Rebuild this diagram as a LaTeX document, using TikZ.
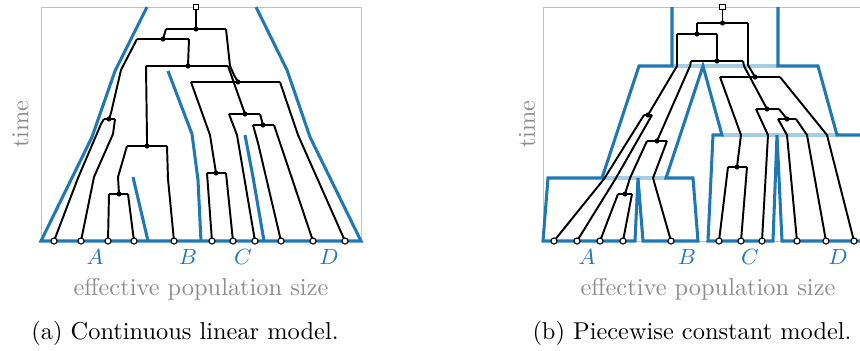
\documentclass[tikz,border=0pt]{standalone}
\definecolor{popblue}{RGB}{31,119,180}
\definecolor{poplight}{RGB}{166,206,227}
\definecolor{framegrey}{RGB}{192,192,192}
\definecolor{textgrey}{RGB}{140,140,140}
\tikzset{
  frameline/.style={draw=framegrey, line width=0.4pt},
  popline/.style={draw=popblue, line width=1.25pt, line join=miter},
  poplightline/.style={draw=poplight, line width=1.25pt},
  treeline/.style={draw=black, line width=0.8pt, line join=round},
  innernode/.style={circle, fill=black, inner sep=0pt, minimum size=2.1pt},
  leafnode/.style={circle, draw=black, fill=white, line width=0.45pt, inner sep=0pt, minimum size=2.5pt},
  rootnode/.style={rectangle, draw=black, fill=white, line width=0.45pt, inner sep=0pt, minimum size=2.4pt},
  axislabel/.style={text=textgrey, font=\normalsize},
  poplabel/.style={text=popblue, font=\small, anchor=base},
  captiontext/.style={text=black, font=\normalsize, anchor=base}
}
\begin{document}
\begin{tikzpicture}[x=0.41pt,y=-0.41pt]
\useasboundingbox (0,0) rectangle (860,350);
\begin{scope}
\clip (0,0) rectangle (860,350);

%% ================= Panel (a) =================
\draw[frameline] (41,7) rectangle (361,241);
\draw[popline] (147,7) -- (115,71) -- (92,137) -- (41,241) -- (361,241) -- (310,137) -- (287,70) -- (256,7);
\draw[popline] (168,71) -- (192,134) -- (198,180) -- (201,241);
\draw[popline] (133,177) -- (148,241);
\draw[popline] (245,135) -- (253,177) -- (264,241);

% coordinates
\coordinate (aR) at (196,7);
\coordinate (ar) at (196,29);  \coordinate (arL) at (166,29); \coordinate (arR) at (226,29);
\coordinate (a1) at (163,39);  \coordinate (a1L) at (137,39); \coordinate (a1R) at (189,39);
\coordinate (a2) at (109,119); \coordinate (a2L) at (104,119); \coordinate (a2R) at (115,119);
\coordinate (a3) at (188,66);  \coordinate (a3L) at (146,66); \coordinate (a3R) at (228,66);
\coordinate (a4) at (147,146); \coordinate (a4L) at (127,146); \coordinate (a4R) at (167,146);
\coordinate (a5) at (119,194); \coordinate (a5L) at (109,194); \coordinate (a5R) at (128,194);
\coordinate (a6) at (245,114); \coordinate (a6L) at (229,114); \coordinate (a6R) at (260,114);
\coordinate (a7) at (238,82);  \coordinate (a7L) at (191,82); \coordinate (a7R) at (280,82);
\coordinate (a8) at (216,173); \coordinate (a8L) at (207,173); \coordinate (a8R) at (226,173);
\coordinate (a9) at (263,125); \coordinate (a9L) at (253,125); \coordinate (a9R) at (274,125);
\coordinate (al1) at (54,241);  \coordinate (al2) at (81,241);  \coordinate (al3) at (108,241);
\coordinate (al4) at (134,241); \coordinate (al5) at (174,241); \coordinate (al6) at (212,241);
\coordinate (al7) at (233,241); \coordinate (al8) at (255,241); \coordinate (al9) at (281,241);
\coordinate (al10) at (313,241); \coordinate (al11) at (345,241);

% bars
\foreach \n in {ar,a1,a2,a3,a4,a5,a6,a7,a8,a9}{\draw[treeline] (\n L) -- (\n R);}
% edges
\draw[treeline] (aR) -- (ar);
\draw[treeline] (arL) -- (a1);
\draw[treeline] (arR) -- (230,66) -- (234,75) -- (a7);
\draw[treeline] (a1L) -- (121,70) -- (111,113) -- (a2);
\draw[treeline] (a1R) -- (a3);
\draw[treeline] (a2L) -- (101,124) -- (78,178) -- (al1);
\draw[treeline] (a2R) -- (113,134) -- (94,177) -- (al2);
\draw[treeline] (a3L) -- (147,138) -- (a4);
\draw[treeline] (a3R) -- (a6);
\draw[treeline] (a4L) -- (118,177) -- (a5);
\draw[treeline] (a4R) -- (168,179) -- (al5);
\draw[treeline] (a5L) -- (al3);
\draw[treeline] (a5R) -- (al4);
\draw[treeline] (a7L) -- (210,135) -- (a8);
\draw[treeline] (a7R) -- (298,135) -- (al11);
\draw[treeline] (a8L) -- (al6);
\draw[treeline] (a8R) -- (al7);
\draw[treeline] (a6L) -- (237,135) -- (al8);
\draw[treeline] (a6R) -- (a9);
\draw[treeline] (a9L) -- (258,143) -- (al9);
\draw[treeline] (a9R) -- (al10);

% nodes
\node[rootnode] (aRn) at (aR) {};
\foreach \n in {ar,a1,a2,a3,a4,a5,a6,a7,a8,a9}{\node[innernode] (\n n) at (\n) {};}
\foreach \n in {1,...,11}{\node[leafnode] (al\n n) at (al\n) {};}

% texts
\node[axislabel, rotate=90] (atime) at (20.5,124) {time};
\node[poplabel] (aA) at (95,264) {$A$};
\node[poplabel] (aB) at (188,264) {$B$};
\node[poplabel] (aC) at (243,264) {$C$};
\node[poplabel] (aD) at (329,264) {$D$};
\node[axislabel, anchor=base] (aeff) at (201,295) {effective population size};
\node[captiontext] (acap) at (185,339) {(a) Continuous linear model.};

%% ================= Panel (b) =================
\draw[frameline] (543,7) rectangle (865,241);
\draw[poplightline] (672,66) -- (778,66);
\draw[poplightline] (602,178) -- (666,178);
\draw[poplightline] (722,135) -- (837,135);
\draw[popline] (672,7) -- (672,66) -- (639,66) -- (602,178) -- (548,178) -- (543,241) -- (635,241) -- (638,178) -- (643,241) -- (698,241) -- (693,178) -- (666,178) -- (703,66) -- (722,135) -- (713,135) -- (708,241) -- (773,241) -- (777,135) -- (782,241) -- (864,241) -- (866,135) -- (837,135) -- (818,66) -- (778,66) -- (778,7);

\coordinate (bR) at (722.5,7);
\coordinate (br) at (722.5,23); \coordinate (brL) at (697,23); \coordinate (brR) at (748,23);
\coordinate (b1) at (697,34);  \coordinate (b1L) at (677,34); \coordinate (b1R) at (717,34);
\coordinate (b2) at (755,77);  \coordinate (b2L) at (720,77); \coordinate (b2R) at (780,77);
\coordinate (b3) at (648,115); \coordinate (b3L) at (644,115); \coordinate (b3R) at (652,115);
\coordinate (b4) at (717,61);  \coordinate (b4L) at (691,61); \coordinate (b4R) at (743,61);
\coordinate (b5) at (657,141); \coordinate (b5L) at (647,141); \coordinate (b5R) at (667,141);
\coordinate (b6) at (767,109); \coordinate (b6L) at (756,109); \coordinate (b6R) at (779,109);
\coordinate (b7) at (737,167); \coordinate (b7L) at (728,167); \coordinate (b7R) at (747,167);
\coordinate (b8) at (787,119); \coordinate (b8L) at (778,119); \coordinate (b8R) at (796,119);
\coordinate (b9) at (625,194); \coordinate (b9L) at (618,194); \coordinate (b9R) at (632,194);
\coordinate (bl1) at (554,241);  \coordinate (bl2) at (577,241);  \coordinate (bl3) at (600,241);
\coordinate (bl4) at (623,241);  \coordinate (bl5) at (671,241);  \coordinate (bl6) at (719,241);
\coordinate (bl7) at (741,241);  \coordinate (bl8) at (762,241);  \coordinate (bl9) at (797,241);
\coordinate (bl10) at (826,241); \coordinate (bl11) at (854,241);

\foreach \n in {br,b1,b2,b3,b4,b5,b6,b7,b8,b9}{\draw[treeline] (\n L) -- (\n R);}
\draw[treeline] (bR) -- (br);
\draw[treeline] (brL) -- (b1);
\draw[treeline] (brR) -- (748,65) -- (b2);
\draw[treeline] (b1L) -- (677,66) -- (b3);
\draw[treeline] (b1R) -- (b4);
\draw[treeline] (b4L) -- (690,66) -- (b5);
\draw[treeline] (b4R) -- (744,66) -- (b6);
\draw[treeline] (b2L) -- (741,135) -- (b7);
\draw[treeline] (b2R) -- (827,135) -- (bl11);
\draw[treeline] (b7L) -- (bl6);
\draw[treeline] (b7R) -- (bl7);
\draw[treeline] (b6L) -- (768,135) -- (bl8);
\draw[treeline] (b6R) -- (b8);
\draw[treeline] (b8L) -- (787,135) -- (bl9);
\draw[treeline] (b8R) -- (807,135) -- (bl10);
\draw[treeline] (b3L) -- (604,179) -- (bl1);
\draw[treeline] (b3R) -- (616,178) -- (bl2);
\draw[treeline] (b5L) -- (630,178) -- (b9);
\draw[treeline] (b5R) -- (653,178) -- (bl5);
\draw[treeline] (b9L) -- (bl3);
\draw[treeline] (b9R) -- (bl4);

\node[rootnode] (bRn) at (bR) {};
\foreach \n in {br,b1,b2,b3,b4,b5,b6,b7,b8,b9}{\node[innernode] (\n n) at (\n) {};}
\foreach \n in {1,...,11}{\node[leafnode] (bl\n n) at (bl\n) {};}

\node[axislabel, rotate=90] (btime) at (527,124) {time};
\node[poplabel] (bA) at (587,264) {$A$};
\node[poplabel] (bB) at (687,264) {$B$};
\node[poplabel] (bC) at (750,264) {$C$};
\node[poplabel] (bD) at (838,264) {$D$};
\node[axislabel, anchor=base] (beff) at (708,295) {effective population size};
\node[captiontext] (bcap) at (692,339) {(b) Piecewise constant model.};
\end{scope}
\end{tikzpicture}
\end{document}
